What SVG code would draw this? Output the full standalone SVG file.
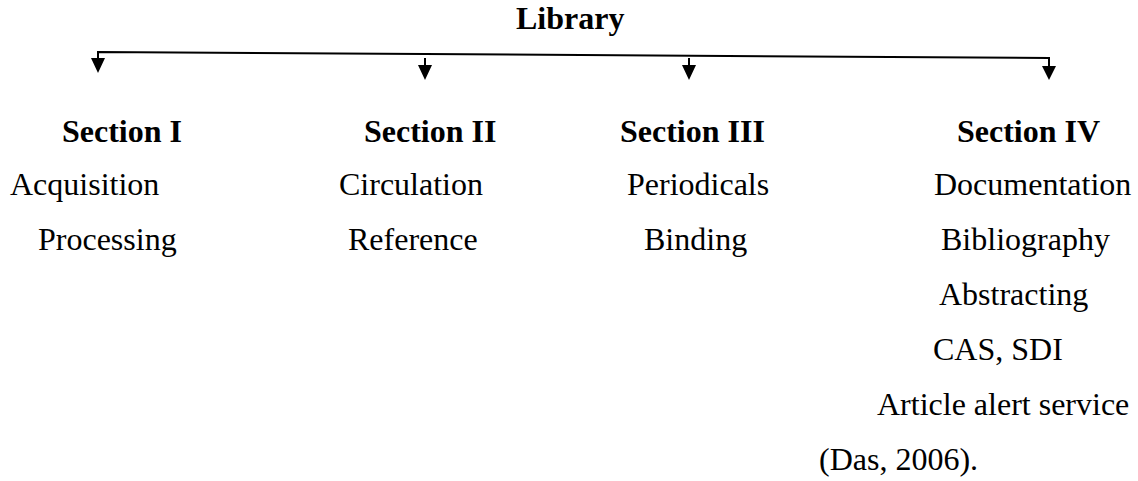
<svg xmlns="http://www.w3.org/2000/svg" width="1138" height="481" viewBox="0 0 1138 481">
<style>
  text { font-family: "Liberation Serif", "Times New Roman", serif; font-size: 32px; fill: #000; }
  .b { font-weight: bold; }
  .ln { stroke: #000; stroke-width: 2; fill: none; }
  .ah { fill: #000; stroke: none; }
</style>
<rect width="1138" height="481" fill="#fff"/>
<g id="library"><text class="b" x="516" y="29">Library</text></g>
<g id="connectors">
  <path class="ln" d="M98,59 V52 L1049,58 V67"/>
  <path class="ah" d="M91,58 H105 L98,73 Z"/>
  <path class="ln" d="M425,58 V66"/>
  <path class="ah" d="M418,65 H432 L425,80 Z"/>
  <path class="ln" d="M689,58 V66"/>
  <path class="ah" d="M682,65 H696 L689,80 Z"/>
  <path class="ah" d="M1042,66 H1056 L1049,80 Z"/>
</g>
<g id="section1">
  <text class="b" x="62" y="142">Section I</text>
  <text x="10" y="195">Acquisition</text>
  <text x="38" y="250">Processing</text>
</g>
<g id="section2">
  <text class="b" x="364" y="142">Section II</text>
  <text x="339" y="195">Circulation</text>
  <text x="348" y="250">Reference</text>
</g>
<g id="section3">
  <text class="b" x="620" y="142">Section III</text>
  <text x="627" y="195">Periodicals</text>
  <text x="644" y="250">Binding</text>
</g>
<g id="section4">
  <text class="b" x="957" y="142">Section IV</text>
  <text x="934" y="195">Documentation</text>
  <text x="941" y="250">Bibliography</text>
  <text x="939" y="305">Abstracting</text>
  <text x="933" y="360">CAS, SDI</text>
  <text x="877" y="415">Article alert service</text>
  <text x="819" y="470">(Das, 2006).</text>
</g>
</svg>
